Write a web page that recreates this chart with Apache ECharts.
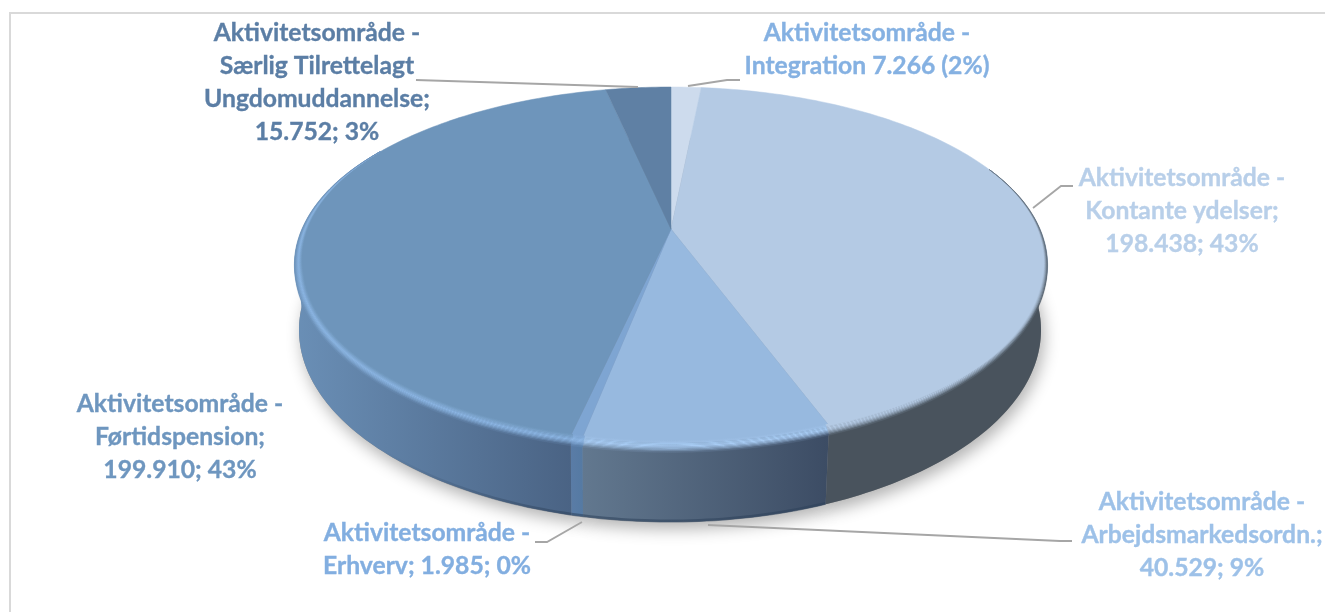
<!DOCTYPE html>
<html>
<head>
<meta charset="utf-8">
<title>Aktivitetsområder</title>
<script src="https://cdn.jsdelivr.net/npm/echarts@6/dist/echarts.min.js"></script>
<style>
  html, body { margin: 0; padding: 0; background: #fff; }
  #main { width: 1325px; height: 612px; }
</style>
</head>
<body>
<div id="main"></div>
<script>
// slices clockwise from 12 o'clock
var categories = ['Integration', 'Kontante ydelser', 'Arbejdsmarkedsordn.', 'Erhverv', 'Førtidspension', 'Særlig Tilrettelagt Ungdomuddannelse'];
var values = [7266, 198438, 40529, 1985, 199910, 15752];
var labelTexts = [
  'Aktivitetsområde -\nIntegration 7.266 (2%)',
  'Aktivitetsområde -\nKontante ydelser;\n198.438; 43%',
  'Aktivitetsområde -\nArbejdsmarkedsordn.;\n40.529; 9%',
  'Aktivitetsområde -\nErhverv; 1.985; 0%',
  'Aktivitetsområde -\nFørtidspension;\n199.910; 43%',
  'Aktivitetsområde -\nSærlig Tilrettelagt\nUngdomuddannelse;\n15.752; 3%'
];

var faceColors = ['#cddbed', '#b4cae4', '#97b9df', '#7ea5d2', '#6e95bb', '#5f80a4'];
var labelColors = ['#85b1e2', '#b8cfe9', '#9dc1e8', '#82aee0', '#6e96bf', '#5b7ea5'];
var wallColors = [
  ['#49535d', '#49535d'],
  ['#49535d', '#49535d'],
  ['#62788f', '#3c4c64'],
  ['#5a7ca6', '#557aa3'],
  ['#6a8fb6', '#4a6384'],
  ['#4a6384', '#4a6384']
];
var bevelColors = ['#cddbed', '#b4cae4', '#a8ccf4', '#8fb8e6', '#8bb5e3', '#5f80a4'];

// label placement: centre x, centre y of first line
var labelPos = [[867, 33], [1182, 178], [1202, 502], [427, 533], [180, 404], [317, 33]];
var leaderLines = [
  [[688, 86], [727, 80], [740, 80]],
  [[1033, 208], [1061, 186], [1073, 186]],
  [[708, 525], [1060, 541], [1072, 541]],
  [[582, 522], [547, 542], [535, 542]],
  null,
  [[638, 87], [416, 80]]
];

// perspective discs for the top face and the bottom of the wall
var topDisc = { cx: 671, cy: 229, r: 369, ry: 170.4, a: 0.2 };
var baseDisc = { cx: 670, cy: 291.6, r: 363.5, ry: 184.3, a: 0.2 };
var BEVEL_STEPS = 10;

var total = values.reduce(function (s, v) { return s + v; }, 0);
var RAD = Math.PI / 180;

function sliceAngles(i) {
  var before = 0;
  for (var k = 0; k < i; k++) before += values[k];
  return [before / total * 2 * Math.PI, (before + values[i]) / total * 2 * Math.PI];
}

function pt(d, t, kx, ky) {
  var s = 1 / (1 + d.a * Math.cos(t));
  return [d.cx + d.r * (kx || 1) * Math.sin(t) * s, d.cy - d.ry * (ky || 1) * Math.cos(t) * s];
}

function arc(d, t1, t2, kx, ky) {
  var pts = [];
  var n = Math.max(2, Math.ceil((t2 - t1) / RAD));
  for (var i = 0; i <= n; i++) {
    pts.push(pt(d, t1 + (t2 - t1) * i / n, kx, ky));
  }
  return pts;
}

function mix(c1, c2, f) {
  var a = echarts.color.parse(c1);
  var b = echarts.color.parse(c2);
  return 'rgb(' + [0, 1, 2].map(function (i) { return Math.round(a[i] + (b[i] - a[i]) * f); }).join(',') + ')';
}

function renderShadow(params) {
  var a = sliceAngles(params.dataIndex);
  return {
    type: 'polygon',
    shape: { points: [[baseDisc.cx, baseDisc.cy]].concat(arc(baseDisc, a[0], a[1])) },
    style: { fill: '#8a8a8a', shadowBlur: 16, shadowOffsetY: 7, shadowOffsetX: 3, shadowColor: 'rgba(0,0,0,0.3)' }
  };
}

function renderWall(params) {
  var i = params.dataIndex;
  var a = sliceAngles(i);
  // only the part between the two side extremes can be seen
  var t1 = Math.max(a[0], 95 * RAD);
  var t2 = Math.min(a[1], 265 * RAD);
  if (t2 <= t1) return null;
  var c = wallColors[i];
  var children = [{
    type: 'polygon',
    shape: { points: arc(topDisc, t1, t2).concat(arc(baseDisc, t1, t2).reverse()) },
    style: {
      fill: { type: 'linear', x: 0, y: 0, x2: 1, y2: 0, colorStops: [{ offset: 0, color: c[0] }, { offset: 1, color: c[1] }] }
    }
  }];
  if (i >= 2 && i <= 4) {
    // darker foot along the front of the wall, fading out to the left
    var footEnd = i === 4 ? 'rgba(45,65,90,0)' : 'rgba(45,65,90,0.55)';
    children.push({
      type: 'polyline',
      shape: { points: arc(baseDisc, Math.max(t1, 145 * RAD), Math.min(t2, 222 * RAD), 0.998, 0.996) },
      style: {
        fill: null,
        lineWidth: 3,
        stroke: {
          type: 'linear', x: 0, y: 0, x2: 1, y2: 0,
          colorStops: [{ offset: 0, color: footEnd }, { offset: 1, color: 'rgba(45,65,90,0.55)' }]
        }
      }
    });
  }
  return { type: 'group', children: children };
}

function renderFace(params) {
  var i = params.dataIndex;
  var a = sliceAngles(i);
  return {
    type: 'polygon',
    shape: { points: [[topDisc.cx, topDisc.cy]].concat(arc(topDisc, a[0], a[1])) },
    style: { fill: faceColors[i], stroke: faceColors[i], lineWidth: 0.5 }
  };
}

function bevelFade(t) {
  // bevel is widest at the front and fades out towards the back
  return Math.max(0, Math.min(1, (t - 68 * RAD) / (40 * RAD), (300 * RAD - t) / (45 * RAD)));
}

// strip s of the rounded rim, running from the inner edge to the outer edge
function rimEdge(t, u) {
  var f = bevelFade(t);
  return pt(topDisc, t, 1 - 0.022 * f * (1 - u), 1 + f * (0.055 * u - 0.006));
}

function rimColor(i, side, u) {
  var wall = wallColors[i][side];
  var hi = bevelColors[i];
  // face -> highlight over the inner half, highlight -> wall over the outer half
  if (u < 0.45) return mix(faceColors[i], hi, u / 0.45);
  return mix(hi, wall, Math.pow((u - 0.45) / 0.55, 1.4));
}

function renderBevel(params) {
  var i = params.dataIndex;
  var a = sliceAngles(i);
  var t1 = Math.max(a[0], 68 * RAD);
  var t2 = Math.min(a[1], 300 * RAD);
  if (t2 <= t1) return null;
  var n = Math.max(2, Math.ceil((t2 - t1) / RAD));
  var children = [];
  for (var s = 0; s < BEVEL_STEPS; s++) {
    var u1 = s / BEVEL_STEPS;
    var u2 = (s + 1) / BEVEL_STEPS;
    var inner = [];
    var outer = [];
    for (var j = 0; j <= n; j++) {
      var t = t1 + (t2 - t1) * j / n;
      inner.push(rimEdge(t, u1));
      outer.push(rimEdge(t, u2));
    }
    var um = (u1 + u2) / 2;
    var grad = {
      type: 'linear', x: 0, y: 0, x2: 1, y2: 0,
      colorStops: [{ offset: 0, color: rimColor(i, 0, um) }, { offset: 1, color: rimColor(i, 1, um) }]
    };
    children.push({
      type: 'polygon',
      shape: { points: inner.concat(outer.reverse()) },
      style: { fill: grad, stroke: grad, lineWidth: 0.3 }
    });
  }
  return { type: 'group', children: children };
}

function layer(fn) {
  return { type: 'custom', coordinateSystem: 'none', silent: true, animation: false, clip: false, data: values, renderItem: fn };
}

var graphics = [
  { type: 'polyline', shape: { points: [[10, 612], [10, 13], [1325, 13]] }, style: { stroke: '#d9d9d9', lineWidth: 2, fill: null } }
];
labelTexts.forEach(function (txt, i) {
  graphics.push({
    type: 'text',
    x: labelPos[i][0],
    y: labelPos[i][1] - 16,
    z: 10,
    style: {
      text: txt,
      fill: labelColors[i],
      stroke: labelColors[i],
      lineWidth: 0.35,
      font: 'bold 24.7px Lato',
      align: 'center',
      verticalAlign: 'top',
      lineHeight: 33
    }
  });
  if (leaderLines[i]) {
    graphics.push({
      type: 'polyline',
      z: 9,
      shape: { points: leaderLines[i] },
      style: { stroke: '#a6a6a6', lineWidth: 1.8, fill: null }
    });
  }
});

var chart = echarts.init(document.getElementById('main'), null, { renderer: 'canvas' });
chart.setOption({
  animation: false,
  backgroundColor: '#ffffff',
  series: [layer(renderShadow), layer(renderWall), layer(renderFace), layer(renderBevel)],
  graphic: graphics
});
</script>
</body>
</html>
